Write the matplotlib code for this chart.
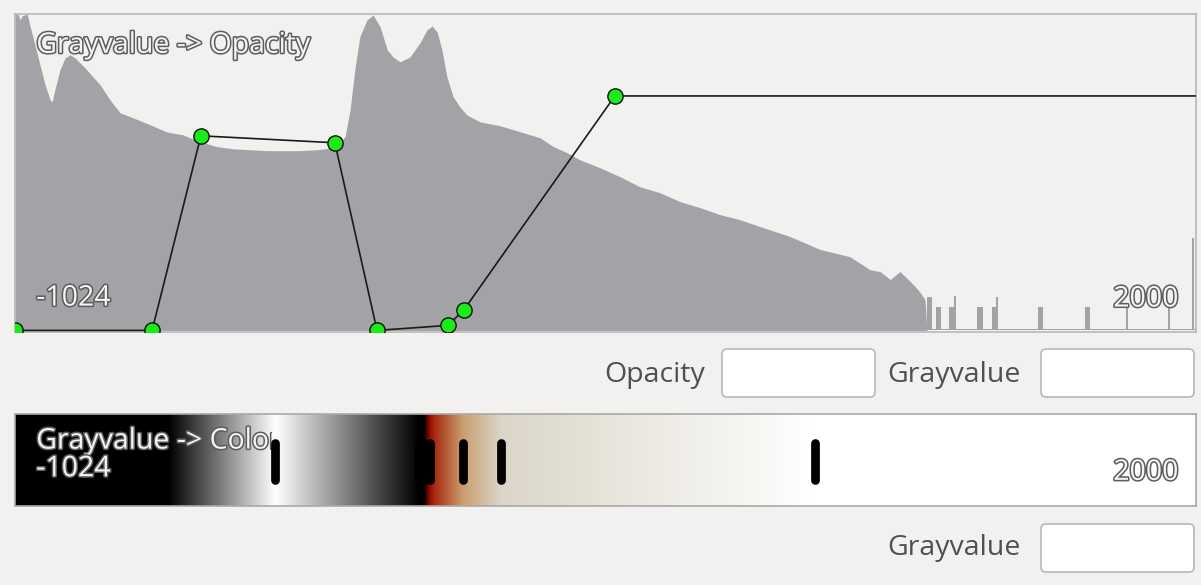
"""Transfer function editor: grayvalue -> opacity / color"""
import numpy as np
import matplotlib
matplotlib.use('Agg')
import matplotlib.pyplot as plt
import matplotlib.patheffects as pe
from matplotlib.colors import LinearSegmentedColormap
from matplotlib.patches import FancyBboxPatch
from matplotlib.transforms import Bbox, TransformedBbox

plt.rcParams['font.family'] = ['Open Sans', 'DejaVu Sans']

GV_MIN, GV_MAX = -1024, 2000

# histogram outline (grayvalue, relative count 0-100)
hist_gv = [-1024, -1016, -1011, -1006, -993, -986, -973, -960, -947, -934,
           -929, -922, -909, -896, -883, -870, -845, -806, -781, -755,
           -722, -678, -635, -594, -550, -507, -466, -379, -294, -251,
           -210, -192, -179, -166, -153, -141, -123, -107, -89, -71,
           -56, -38, -13, 13, 31, 44, 57, 69, 82, 98,
           115, 133, 167, 218, 269, 320, 354, 389, 423, 474,
           525, 576, 628, 679, 730, 781, 832, 884, 960, 1037,
           1114, 1165, 1191, 1217, 1242, 1268, 1288, 1306, 1311]
hist_cnt = [100, 100, 98.1, 99.4, 100, 96.5, 90.2, 83.9, 77.6, 72.9,
            72.2, 76.0, 82.3, 86.1, 87.1, 86.1, 83.0, 77.6, 72.9, 68.8,
            67.2, 65.0, 62.7, 61.8, 59.6, 58.1, 57.4, 56.8, 56.8, 57.1,
            57.7, 59.6, 61.2, 69.7, 83.3, 92.8, 98.1, 99.7, 95.9, 88.7,
            86.4, 84.9, 86.4, 90.9, 95.0, 96.2, 94.3, 88.7, 80.1, 73.8,
            70.7, 68.1, 65.9, 64.7, 62.8, 60.9, 58.1, 56.2, 53.9, 51.4,
            48.6, 45.4, 43.5, 40.7, 38.8, 36.6, 35.0, 32.8, 29.7, 25.6,
            23.3, 19.2, 18.6, 16.1, 18.6, 15.5, 12.9, 9.8, 0]

# isolated bins in the sparse tail
spike_gv = [1318, 1341, 1374, 1383, 1447, 1484, 1490, 1602, 1722, 1823, 1931, 1992]
spike_cnt = [10.7, 7.3, 7.3, 11.0, 7.3, 7.3, 10.7, 7.3, 7.3, 7.3, 7.3, 29.3]
spike_w = [13, 13, 13, 4, 13, 13, 4, 13, 13, 4, 4, 4]
tail_floor = 0.6

# opacity control points
op_gv = [-1024, -673, -548, -205, -97, 85, 126, 512, 2000]
op_val = [0.0, 0.0, 0.615, 0.593, 0.0, 0.016, 0.066, 0.741, 0.741]

# color control points
col_gv = [-1024, -632, -358, 10, 23, 38, 50, 123, 220, 1024, 2000]
col_rgb = ['#000000', '#000000', '#ffffff', '#000000', '#000000',
           '#960c02', '#a82a10', '#caa070', '#dbd6c8', '#ffffff', '#ffffff']
col_markers = [-358, 10, 23, 38, 123, 220, 1024]

BG = '#f2f1f0'
HIST = '#a3a2a7'
W, H = 1201, 585
FS = 20.5

label_fx = [pe.withStroke(linewidth=2.2, foreground='#5c5c5c')]


def px_rect(x0, y0, x1, y1):
    return [x0 / W, 1 - y1 / H, (x1 - x0) / W, (y1 - y0) / H]


fig = plt.figure(figsize=(W / 100, H / 100), dpi=100, facecolor=BG)

# UI chrome layer (pixel coords)
ui = fig.add_axes([0, 0, 1, 1], zorder=-5)
ui.set_xlim(0, W)
ui.set_ylim(H, 0)
ui.axis('off')

# --- opacity panel ---
ax = fig.add_axes(px_rect(15, 14, 1196, 332))
ax.set_facecolor(BG)
ax.fill_between(hist_gv, hist_cnt, color=HIST, lw=0, zorder=1)
ax.bar(spike_gv, spike_cnt, width=spike_w, color=HIST, lw=0, zorder=1)
ax.fill_between([hist_gv[-1], GV_MAX], tail_floor, color=HIST, lw=0, zorder=1)
ax.set_xlim(GV_MIN, GV_MAX)
ax.set_ylim(-0.5, 100)
ax.set_xticks([])
ax.set_yticks([])
for s in ax.spines.values():
    s.set_color('#b8b8b8')
    s.set_linewidth(1.2)

ax2 = ax.twinx()
ax2.set_ylim(-0.005, 1.0)
ax2.set_yticks([])
for s in ax2.spines.values():
    s.set_visible(False)
ax2.plot(op_gv, op_val, color='#1a1a1a', lw=1.2, zorder=3)
ax2.plot(op_gv[:-1], op_val[:-1], 'o', ms=11, mfc='#19ec19', mec='#111111',
         mew=1.0, zorder=4)

ax2.text(0.018, 0.9, 'Grayvalue -> Opacity', transform=ax.transAxes, fontsize=FS,
         color='#f4f4f4', va='center', ha='left', path_effects=label_fx, zorder=5)
ax2.text(0.018, 0.105, str(GV_MIN), transform=ax.transAxes, fontsize=FS,
         color='#f4f4f4', va='center', ha='left', path_effects=label_fx, zorder=5)
ax2.text(0.985, 0.102, str(GV_MAX), transform=ax.transAxes, fontsize=FS,
         color='#f4f4f4', va='center', ha='right', path_effects=label_fx, zorder=5)

# --- color panel ---
cax = fig.add_axes(px_rect(15, 414, 1196, 506))
stops = [(g - GV_MIN) / (GV_MAX - GV_MIN) for g in col_gv]
cmap = LinearSegmentedColormap.from_list('tf', list(zip(stops, col_rgb)), N=1024)
grad = np.linspace(0, 1, 2048)[None, :]
cax.imshow(grad, cmap=cmap, aspect='auto', extent=[GV_MIN, GV_MAX, 0, 1],
           interpolation='bilinear')
cax.set_xlim(GV_MIN, GV_MAX)
cax.set_ylim(0, 1)
cax.set_xticks([])
cax.set_yticks([])
for s in cax.spines.values():
    s.set_color('#a8a8a8')
    s.set_linewidth(1.2)

title = cax.text(0.018, 0.70, 'Grayvalue -> Color', transform=cax.transAxes, fontsize=FS,
                 color='#f4f4f4', va='center', ha='left', path_effects=label_fx, zorder=2)
# title is cut off where the first color marker sits
title.set_clip_box(TransformedBbox(Bbox([[GV_MIN, 0], [col_markers[0] - 8, 1]]),
                                   cax.transData))
title.set_clip_on(True)
cax.text(0.018, 0.40, str(GV_MIN), transform=cax.transAxes, fontsize=FS,
         color='#f4f4f4', va='center', ha='left', path_effects=label_fx, zorder=2)
cax.text(0.985, 0.36, str(GV_MAX), transform=cax.transAxes, fontsize=FS,
         color='#f4f4f4', va='center', ha='right', path_effects=label_fx, zorder=2)
mk = cax.vlines(col_markers, 0.28, 0.69, color='black', lw=6.3, zorder=3)
mk.set_capstyle('round')

# --- input fields ---
def field(x0, y0, x1, y1):
    ui.add_patch(FancyBboxPatch((x0, y0), x1 - x0, y1 - y0,
                                boxstyle='round,pad=0,rounding_size=5',
                                fc='white', ec='#b8b8b8', lw=1.2))

field(722, 349, 875, 397)
field(1041, 349, 1194, 397)
field(1041, 524, 1194, 572)
ui.text(705, 375, 'Opacity', fontsize=FS, color='#505050', ha='right', va='center')
ui.text(1021, 375, 'Grayvalue', fontsize=FS, color='#505050', ha='right', va='center')
ui.text(1021, 548, 'Grayvalue', fontsize=FS, color='#505050', ha='right', va='center')

plt.savefig('out.png', dpi=100, facecolor=BG)
plt.close()
